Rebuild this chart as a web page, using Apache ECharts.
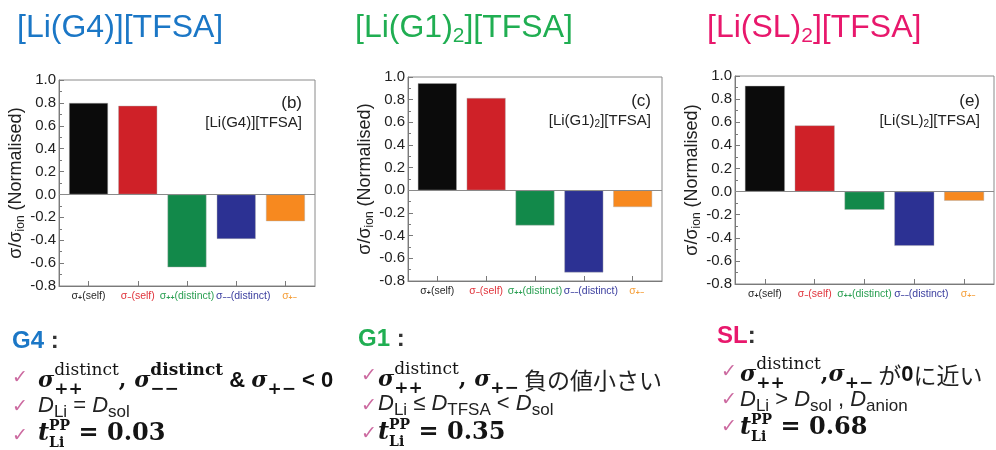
<!DOCTYPE html>
<html><head><meta charset="utf-8">
<script src="https://cdn.jsdelivr.net/npm/echarts@6/dist/echarts.min.js"></script>
<style>html,body{margin:0;padding:0;background:#fff}#c{width:996px;height:450px}</style>
</head><body><div id="c"></div>
<script>
// ---------- data ----------
const categories = ['σ+(self)', 'σ−(self)', 'σ++(distinct)', 'σ−−(distinct)', 'σ+−'];
const categoryPositions = [1, 2, 3, 4, 5];
const g4Values = [0.80, 0.775, -0.637, -0.389, -0.234];
const g1Values = [0.945, 0.815, -0.31, -0.725, -0.148];
const slValues = [0.915, 0.573, -0.158, -0.47, -0.08];
const yMin = -0.8, yMax = 1.0, yInterval = 0.2;
const panelTitles = ['[Li(G4)][TFSA]', '[Li(G1)|2|][TFSA]', '[Li(SL)|2|][TFSA]'];
const panelLetters = ['(b)', '(c)', '(e)'];
const tValues = ['0.03', '0.35', '0.68'];

// ---------- styles ----------
const barColors = ['#0b0b0b', '#cf2128', '#12894a', '#2c3193', '#f7891f'];
const labelColors = ['#2a2a2a', '#e0343c', '#2a9f52', '#3d40a0', '#f5a03c'];
const labelShift = [0, 0, 0, 14, 8];
const titleColors = ['#1b77c6', '#20ae52', '#e8186c'];
const grids = [
  {left: 59, top: 80, width: 256, height: 206},
  {left: 408, top: 77, width: 254, height: 204},
  {left: 735, top: 76, width: 259, height: 208}
];
const barWidths = [39, 39, 40];

function catRich(i) {
  const c = categories[i];
  let k = 1;
  while (k < c.length && (c[k] === '+' || c[k] === '−')) k++;
  const sub = c.slice(1, k), rest = c.slice(k);
  return '{f' + i + '|σ}{s' + i + '|' + sub + '}' + (rest ? '{m' + i + '|' + rest + '}' : '');
}
const catRichStyles = {};
labelColors.forEach((col, i) => {
  catRichStyles['m' + i] = {fontSize: 10.5, fontWeight: 500, fontFamily: 'Liberation Sans', color: col};
  catRichStyles['f' + i] = {fontSize: 10.5, fontWeight: 500, fontFamily: 'Liberation Sans', color: col, padding: [0, 0, 0, labelShift[i]]};
  catRichStyles['s' + i] = {fontSize: 7, fontWeight: 'bold', fontFamily: 'Liberation Sans', color: col, padding: [5, 0, 0, 0]};
});

const panelData = [g4Values, g1Values, slValues];
const option = {
  animation: false,
  backgroundColor: '#fff',
  grid: grids.map(g => Object.assign({show: true, borderColor: '#8a8a8a', borderWidth: 1, backgroundColor: 'transparent', containLabel: false}, g)),
  xAxis: grids.map((g, i) => ({
    type: 'value', gridIndex: i, min: 0.4, max: 5.6,
    axisLine: {show: true, onZero: false, lineStyle: {color: '#7a7a7a'}},
    axisTick: {show: true, inside: true, length: 5, customValues: categoryPositions, lineStyle: {color: '#7a7a7a'}},
    axisLabel: {show: true, customValues: categoryPositions, margin: 4, formatter: v => catRich(Math.round(v) - 1), rich: catRichStyles},
    splitLine: {show: false}
  })),
  yAxis: grids.map((g, i) => ({
    type: 'value', gridIndex: i, min: yMin, max: yMax, interval: yInterval,
    axisLine: {show: true, lineStyle: {color: '#7a7a7a'}},
    axisTick: {show: true, inside: true, length: 5, lineStyle: {color: '#7a7a7a'}},
    minorTick: {show: true, splitNumber: 2, length: 3, lineStyle: {color: '#7a7a7a'}},
    axisLabel: {fontSize: 15, fontFamily: 'Liberation Sans', color: '#222', margin: 3, formatter: v => v.toFixed(1)},
    splitLine: {show: false},
    name: '{a|σ/σ}{s|ion}{a| (Normalised)}',
    nameLocation: 'middle', nameRotate: 90, nameGap: 29,
    nameTextStyle: {rich: {
      a: {fontSize: 18, fontFamily: 'Liberation Sans', color: '#222'},
      s: {fontSize: 12, fontFamily: 'Liberation Sans', color: '#222', padding: [9, 0, 0, 0]}
    }}
  })),
  series: panelData.map((vals, i) => ({
    type: 'bar', xAxisIndex: i, yAxisIndex: i, barWidth: barWidths[i],
    data: vals.map((v, j) => ({value: [categoryPositions[j], v], itemStyle: {color: barColors[j]}})),
    itemStyle: {borderColor: 'rgba(170,170,170,0.7)', borderWidth: 0.6},
    markLine: {silent: true, symbol: 'none', label: {show: false}, lineStyle: {color: '#8a8a8a', type: 'solid', width: 1}, data: [{yAxis: 0}]}
  })),
  graphic: []
};

// ---------- text helpers ----------
const MATH = 'DejaVu Serif';
const ctx = document.createElement('canvas').getContext('2d');
function fontStr(p) { return (p.italic ? 'italic ' : '') + (p.bold ? 'bold ' : '') + p.size + 'px "' + (p.family || MATH) + '"'; }
function tw(p) { ctx.font = fontStr(p); return ctx.measureText(p.text).width; }
function textEl(x, y, p) {
  return {type: 'text', x: x, y: y, silent: true, style: {
    text: p.text, font: fontStr(p), fill: p.color || '#141414',
    align: 'left', textAlign: 'left', verticalAlign: 'middle', textVerticalAlign: 'middle'}};
}
function runLine(x, y, parts) {
  let cx = x; const els = [];
  parts.forEach(p => {
    if (p.script) {
      let m = 0;
      p.script.forEach(q => { els.push(textEl(cx, y + (q.dy || 0), q)); m = Math.max(m, tw(q)); });
      cx += m + (p.gap || 0);
    } else {
      els.push(textEl(cx, y + (p.dy || 0), p)); cx += tw(p) + (p.gap || 0);
    }
  });
  return els;
}
const SIG = {text: 'σ', bold: true, italic: true, size: 22};
const supD = (b) => ({text: 'distinct', bold: b, size: 17, dy: -10});
const subS = (t) => ({text: t, bold: true, size: 17, dy: 9});
const Dit = {text: 'D', italic: true, size: 22, family: 'Liberation Sans', color: '#222'};
const dsub = (t) => ({text: t, size: 17, family: 'Liberation Sans', dy: 6, color: '#222'});
const op = (t) => ({text: t, size: 22, family: 'Liberation Sans', color: '#222'});
const tLine = (v) => [{text: 't', bold: true, italic: true, size: 24},
  {script: [{text: 'PP', bold: true, size: 14, dy: -8}, {text: 'Li', bold: true, size: 14, dy: 9}]},
  {text: ' = ' + v, bold: true, size: 24}];
const CHK = (x, y) => textEl(x, y, {text: '✓', size: 19, family: 'DejaVu Sans', color: '#cc6aa0'});
const jp = (t) => ({text: t, size: 23, family: 'Noto Sans CJK JP', color: '#222'});
const comma = (t) => ({text: t, bold: true, size: 22});
const sansB = (t) => ({text: t, bold: true, size: 22, family: 'Liberation Sans', color: '#111'});

const G = option.graphic;
// Top titles
const titleX = [17, 355, 707];
panelTitles.forEach((t, i) => {
  const parts = t.split('|');
  const rich = parts.map((s, k) => k % 2 ? '{s|' + s + '}' : '{a|' + s + '}').join('');
  G.push({type: 'text', left: titleX[i], top: 12, silent: true, style: {
    text: rich, rich: {
      a: {fontSize: 32, fontFamily: 'Liberation Sans', fill: titleColors[i], color: titleColors[i]},
      s: {fontSize: 21, fontFamily: 'Liberation Sans', fill: titleColors[i], color: titleColors[i], padding: [17, 0, 0, 0]}
    }}});
});
// In-plot labels
const inX = [302, 651, 980];
const inY = [103, 101, 101];
panelTitles.forEach((t, i) => {
  G.push({type: 'text', x: inX[i], y: inY[i], silent: true, style: {text: panelLetters[i], font: '17px "Liberation Sans"', fill: '#222', align: 'right', textAlign: 'right', verticalAlign: 'middle', textVerticalAlign: 'middle'}});
  const parts = t.split('|');
  const rich = parts.map((s, k) => k % 2 ? '{s|' + s + '}' : '{a|' + s + '}').join('');
  G.push({type: 'text', x: inX[i], y: inY[i] + 20, silent: true, style: {text: rich, align: 'right', textAlign: 'right', verticalAlign: 'middle', textVerticalAlign: 'middle',
    rich: {a: {fontSize: 15, fontFamily: 'Liberation Sans', fill: '#222', color: '#222'}, s: {fontSize: 10, fontFamily: 'Liberation Sans', fill: '#222', color: '#222', padding: [7, 0, 0, 0]}}}});
});

// Bottom notes
function header(x, y, name, color, sep) {
  G.push({type: 'text', x: x, y: y, silent: true, style: {text: '{h|' + name + '}{c|' + sep + '}', verticalAlign: 'middle', textVerticalAlign: 'middle',
    rich: {h: {fontSize: 24, fontWeight: 'bold', fontFamily: 'Liberation Sans', fill: color, color: color}, c: {fontSize: 24, fontWeight: 'bold', fontFamily: 'Liberation Sans', fill: '#333', color: '#333'}}}});
}
// Column 1
header(12, 341, 'G4', titleColors[0], ' :');
G.push(CHK(12, 378), CHK(12, 407), CHK(12, 436));
G.push(...runLine(38, 381, [SIG, {script: [supD(false), subS('++')]}, comma(', '), SIG, {script: [supD(true), subS('−−')]},
  sansB(' & '), SIG, subS('+−'), sansB(' < 0')]));
G.push(...runLine(38, 406, [Dit, dsub('Li'), op(' = '), Dit, dsub('sol')]));
G.push(...runLine(38, 434, tLine(tValues[0])));
// Column 2
header(358, 339, 'G1', titleColors[1], ' :');
G.push(CHK(361, 376), CHK(361, 406), CHK(361, 434));
G.push(...runLine(378, 380, [SIG, {script: [supD(false), subS('++')]}, comma(', '), SIG, subS('+−'), jp(' 負の値小さい')]));
G.push(...runLine(378, 404, [Dit, dsub('Li'), op(' ≤ '), Dit, dsub('TFSA'), op(' < '), Dit, dsub('sol')]));
G.push(...runLine(378, 433, tLine(tValues[1])));
// Column 3
header(717, 336, 'SL', titleColors[2], ':');
G.push(CHK(721, 372), CHK(721, 400), CHK(721, 427));
G.push(...runLine(740, 375, [SIG, {script: [supD(false), subS('++')]}, comma(','), SIG, subS('+−'), jp(' が'),
  sansB('0'), jp('に近い')]));
G.push(...runLine(740, 400, [Dit, dsub('Li'), op(' > '), Dit, dsub('sol'), op(' , '), Dit, dsub('anion')]));
G.push(...runLine(740, 428, tLine(tValues[2])));

const chart = echarts.init(document.getElementById('c'), null, {renderer: 'canvas'});
chart.setOption(option);
</script>
</body></html>
